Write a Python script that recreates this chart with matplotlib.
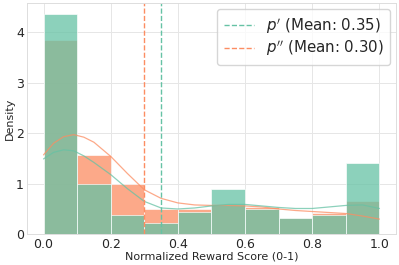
import matplotlib
matplotlib.use("Agg")
import matplotlib.pyplot as plt
import seaborn as sns

sns.set_theme(style="whitegrid")
plt.rcParams['font.family'] = ['DejaVu Sans']

# histogram (density) per bin of width 0.1
bin_left = [0.0, 0.1, 0.2, 0.3, 0.4, 0.5, 0.6, 0.7, 0.8, 0.9]
dens_p1 = [4.35, 1.00, 0.39, 0.23, 0.45, 0.90, 0.50, 0.33, 0.39, 1.40]
dens_p2 = [3.85, 1.56, 1.00, 0.49, 0.50, 0.58, 0.53, 0.33, 0.43, 0.66]

# kde curves
kde_x = [0.0, 0.03, 0.06, 0.09, 0.12, 0.15, 0.2, 0.25, 0.3, 0.35, 0.4, 0.45,
         0.5, 0.55, 0.6, 0.65, 0.7, 0.75, 0.8, 0.85, 0.9, 0.95, 1.0]
kde_p1 = [1.49, 1.62, 1.67, 1.65, 1.55, 1.42, 1.18, 0.90, 0.65, 0.52, 0.50, 0.52,
          0.56, 0.59, 0.59, 0.56, 0.53, 0.51, 0.51, 0.54, 0.57, 0.58, 0.51]
kde_p2 = [1.57, 1.80, 1.93, 1.97, 1.92, 1.82, 1.54, 1.20, 0.88, 0.71, 0.62, 0.58,
          0.57, 0.57, 0.56, 0.54, 0.50, 0.47, 0.45, 0.43, 0.41, 0.36, 0.30]

mean_p1 = 0.35
mean_p2 = 0.30

green = '#66c2a5'
orange = '#fc8d62'

fig, ax = plt.subplots(figsize=(3.99, 2.65), dpi=100)
fig.subplots_adjust(left=0.067, right=0.993, bottom=0.116, top=0.988)

ax.bar(bin_left, dens_p2, width=0.1, align='edge', color=orange, alpha=0.75,
       edgecolor='white', linewidth=0.6)
ax.bar(bin_left, dens_p1, width=0.1, align='edge', color=green, alpha=0.75,
       edgecolor='white', linewidth=0.6)
ax.plot(kde_x, kde_p2, color=orange, lw=0.9, alpha=0.75)
ax.plot(kde_x, kde_p1, color=green, lw=0.9, alpha=0.75)

ax.axvline(mean_p1, color=green, ls='--', lw=1, label=r"$p'$ (Mean: 0.35)")
ax.axvline(mean_p2, color=orange, ls='--', lw=1, label=r"$p''$ (Mean: 0.30)")

ax.set_xlim(-0.05, 1.05)
ax.set_ylim(0, 4.57)
ax.set_xticks([0.0, 0.2, 0.4, 0.6, 0.8, 1.0])
ax.set_yticks([0, 1, 2, 3, 4])
ax.tick_params(axis='x', labelsize=9, pad=2.5, length=0)
ax.tick_params(axis='y', labelsize=9, pad=2, length=0)
ax.set_xlabel('Normalized Reward Score (0-1)', fontsize=8, labelpad=0.5)
ax.set_ylabel('Density', fontsize=8, labelpad=1)
ax.grid(color='#e6e6e6', lw=0.7)
for s in ax.spines.values():
    s.set_color('#dddddd')
    s.set_linewidth(0.7)

ax.legend(loc='upper right', fontsize=10.8, handlelength=2.0, borderpad=0.45,
          labelspacing=0.2, handletextpad=0.8, borderaxespad=0.4)

fig.savefig('out.png', dpi=100)
